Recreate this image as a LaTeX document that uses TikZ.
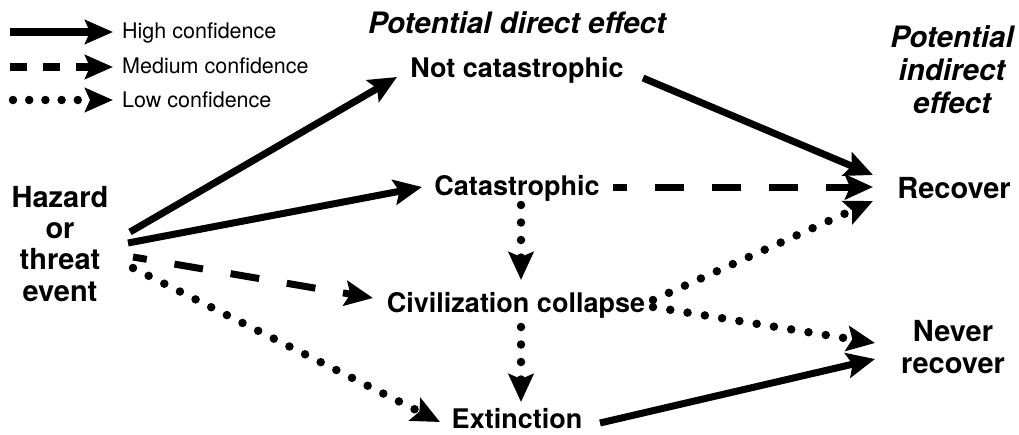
\documentclass[tikz,border=0pt]{standalone}
\usepackage{fontspec}
\setmainfont{TeX Gyre Heros}
\usetikzlibrary{arrows.meta}

\tikzset{
  hi/.style={line width=7pt, -{Stealth[length=28pt,width=25pt,inset=5pt]}},
  med/.style={hi, dash pattern=on 29pt off 28pt, dash phase=15pt},
  low/.style={hi, line width=8.5pt, line cap=round, dash pattern=on 0pt off 17.5pt},
  leghi/.style={line width=7.5pt, -{Stealth[length=28pt,width=24pt,inset=5pt]}},
  legmed/.style={leghi, dash pattern=on 17pt off 16pt},
  leglow/.style={leghi, line width=8.5pt, line cap=round, dash pattern=on 0pt off 16.2pt},
  lbl/.style={font=\bfseries\fontsize{27}{31.5}\selectfont, inner sep=0pt, align=center, anchor=base},
  endlbl/.style={lbl, font=\bfseries\fontsize{29}{31.3}\selectfont},
  head/.style={font=\bfseries\itshape\fontsize{29.5}{33}\selectfont, inner sep=0pt, align=center, anchor=base},
  leg/.style={font=\fontsize{21.5}{24}\selectfont, inner sep=0pt, anchor=base west},
}

\begin{document}
\begin{tikzpicture}[x=1pt,y=-1pt]
\useasboundingbox (0,0) rectangle (1019,434);

% legend
\node[leg] (lg1) at (122,38) {High confidence};
\node[leg] (lg2) at (122,73) {Medium confidence};
\node[leg] (lg3) at (122,107) {Low confidence};
\coordinate (ls1) at (10,32);
\coordinate (ls2) at (10,67);
\coordinate (ls3) at (13,100);
\draw[leghi]  (ls1) -- ([shift={(-9,-6)}]lg1.base west);
\draw[legmed] (ls2) -- ([shift={(-9,-6)}]lg2.base west);
\draw[leglow] (ls3) -- ([shift={(-9,-7)}]lg3.base west);

% column headings (base anchor sits on the last line)
\node[head] (pdir) at (517,33) {Potential direct effect};
\node[head] (pind) at (952,113) {Potential\\indirect\\effect};

% outcomes
\node[endlbl] (haz) at (60,301)  {Hazard\\or\\threat\\event};
\node[lbl] (notc) at (517,77)  {Not catastrophic};
\node[lbl] (cat)  at (517,195) {Catastrophic};
\node[lbl] (civ)  at (516,312) {Civilization collapse};
\node[lbl] (ext)  at (517,428) {Extinction};
\node[endlbl] (rec) at (954,198) {Recover};
\node[endlbl] (nev) at (953,373) {Never\\recover};

% direct effects of the event
\draw[hi]  ([shift={(70,-69)}]haz.base) -- ([shift={(-120,0)}]notc.base);
\draw[hi]  ([shift={(68,-58)}]haz.base) -- ([shift={(-95,-8)}]cat.base);
\draw[med] ([shift={(73,-44)}]haz.base) -- ([shift={(-143,-14)}]civ.base);
\draw[low] ([shift={(73,-33)}]haz.base) -- ([shift={(-77,-6)}]ext.base);

% escalation between outcomes
\draw[low] ([shift={(4,10)}]cat.base) -- ([shift={(5,-32)}]civ.base);
\draw[low] ([shift={(5,15)}]civ.base) -- ([shift={(4,-26)}]ext.base);

% indirect effects
\draw[hi]  ([shift={(126,1)}]notc.base) -- ([shift={(-81,-23)}]rec.base);
\draw[med] ([shift={(96,-8)}]cat.base) -- ([shift={(-81,-11)}]rec.base);
\draw[low] ([shift={(137,-12)}]civ.base) -- ([shift={(-81,3)}]rec.base);
\draw[low] ([shift={(137,-5)}]civ.base) -- ([shift={(-78,-30)}]nev.base);
\draw[hi]  ([shift={(83,-5)}]ext.base) -- ([shift={(-78,-14)}]nev.base);
\end{tikzpicture}
\end{document}
